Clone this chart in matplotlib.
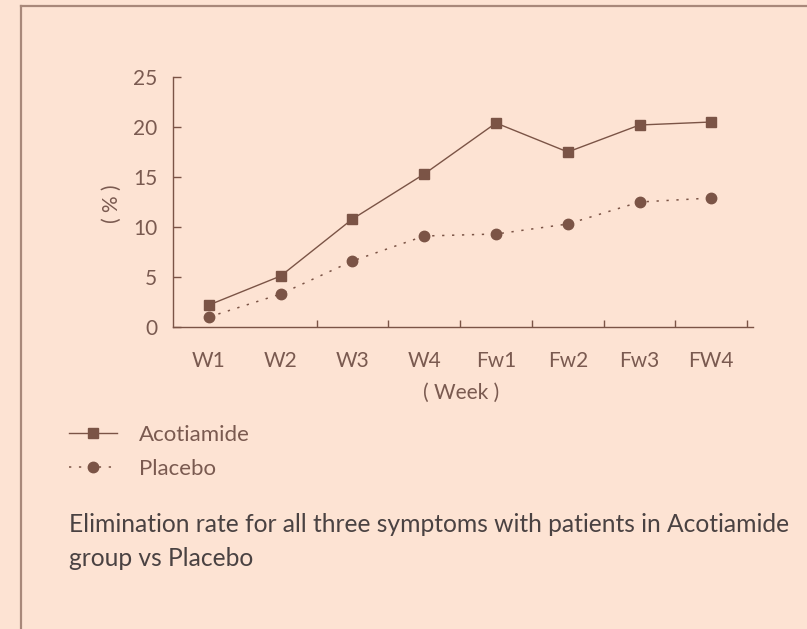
import matplotlib
matplotlib.use("Agg")
import matplotlib.pyplot as plt
from matplotlib import font_manager
from matplotlib.lines import Line2D

weeks = ["W1", "W2", "W3", "W4", "Fw1", "Fw2", "Fw3", "FW4"]
acotiamide = [2.2, 5.1, 10.8, 15.3, 20.4, 17.5, 20.2, 20.5]
placebo = [1.0, 3.3, 6.6, 9.1, 9.3, 10.3, 12.5, 12.9]
y_ticks = [0, 5, 10, 15, 20, 25]
series_names = ["Acotiamide", "Placebo"]
caption_lines = ["Elimination rate for all three symptoms with patients in Acotiamide",
                 "group vs Placebo"]

avail = {f.name for f in font_manager.fontManager.ttflist}
def pick(*names):
    for n in names:
        if n in avail:
            return n
    return "DejaVu Sans"
main_font = pick("Lato", "Open Sans", "DejaVu Sans")
cap_font = pick("Lato", "DejaVu Sans")

BG = "#fde3d3"
BROWN = "#7b5446"
TXT = "#7a5a50"
CAP = "#4a4242"
FRAME = "#a8887a"

W, H = 807, 629
fig = plt.figure(figsize=(W / 100, H / 100), dpi=100, facecolor=BG)

# frame lines
fig.add_artist(Line2D([21 / W, 1], [1 - 6 / H, 1 - 6 / H], color=FRAME, lw=1.6,
                      transform=fig.transFigure))
fig.add_artist(Line2D([21 / W, 21 / W], [0, 1 - 6 / H], color=FRAME, lw=1.6,
                      transform=fig.transFigure))

x0, x1, y0, y1 = 173, 753, 327, 77
ax = fig.add_axes([x0 / W, 1 - y0 / H, (x1 - x0) / W, (y0 - y1) / H])
ax.set_facecolor(BG)
xs = list(range(len(weeks)))
ax.plot(xs, acotiamide, color=BROWN, lw=1.0, marker="s", ms=7,
        label=series_names[0])
ax.plot(xs, placebo, color=BROWN, lw=1.1, ls=(0, (1.5, 5)), marker="o", ms=7.5,
        label=series_names[1])

ax.set_xlim(-0.5, 7.58)
ax.set_ylim(0, 25)
for s in ["top", "right"]:
    ax.spines[s].set_visible(False)
for s in ["left", "bottom"]:
    ax.spines[s].set_color(BROWN)
    ax.spines[s].set_linewidth(1.0)

ax.set_yticks(y_ticks)
ax.set_yticklabels([str(v) for v in y_ticks])
ax.tick_params(axis="y", direction="in", length=6, width=1.0, color=BROWN,
               labelcolor=TXT, labelsize=15, pad=11.5)
ax.set_xticks([i + 0.5 for i in xs[1:]])
ax.set_xticklabels([])
ax.tick_params(axis="x", which="major", direction="in", length=5, width=1.0,
               color=BROWN)
ax.set_xticks(xs, minor=True)
ax.set_xticklabels(weeks, minor=True)
ax.tick_params(axis="x", which="minor", length=0, labelcolor=TXT,
               labelsize=15, pad=17)
for lab in ax.get_xticklabels(minor=True) + ax.get_yticklabels():
    lab.set_fontfamily(main_font)

fig.text(112 / W, 1 - 204 / H, "( % )", rotation=90, ha="center", va="center",
         color=TXT, fontsize=15, fontfamily=main_font)
fig.text(461 / W, 1 - 393 / H, "( Week )", ha="center", va="center",
         color=TXT, fontsize=15, fontfamily=main_font)

leg = fig.legend(loc="upper left", bbox_to_anchor=(60 / W, 1 - 416 / H),
                 borderaxespad=0, frameon=False, handlelength=2.16,
                 handletextpad=1.0, labelspacing=0.62,
                 prop={"family": main_font, "size": 16},
                 labelcolor=TXT, markerscale=1.0)

for i, line in enumerate(caption_lines):
    fig.text(69 / W, 1 - (532 + 34 * i) / H, line, ha="left", va="baseline",
             color=CAP, fontsize=17.7, fontfamily=cap_font)

fig.savefig("out.png", dpi=100, facecolor=BG)
